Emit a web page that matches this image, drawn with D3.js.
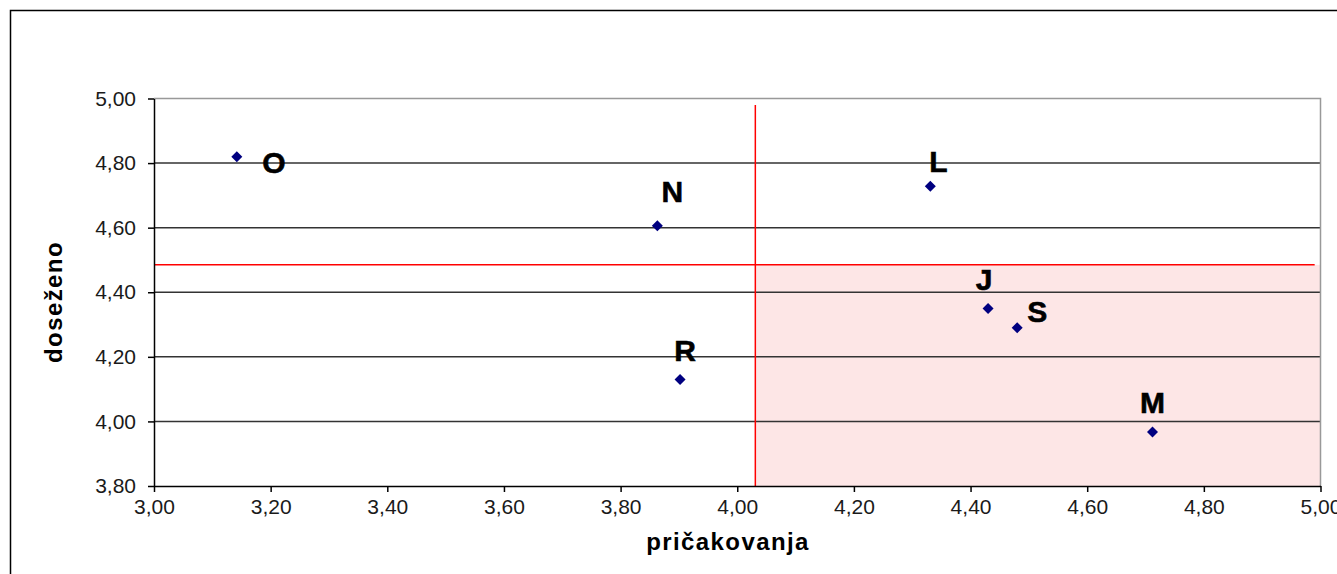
<!DOCTYPE html>
<html>
<head>
<meta charset="utf-8">
<script src="https://cdn.jsdelivr.net/npm/d3@7"></script>
<style>
  html, body { margin: 0; padding: 0; background: #fff; }
  #chart { width: 1337px; height: 574px; }
</style>
</head>
<body>
<div id="chart"></div>
<script>
// Data
const labels = ["O", "N", "R", "L", "J", "S", "M"];
const expected = [3.142, 3.863, 3.902, 4.331, 4.430, 4.480, 4.712];
const achieved = [4.820, 4.606, 4.130, 4.728, 4.350, 4.290, 3.967];
const meanExpected = 4.031;
const meanAchieved = 4.485;
const meanLineXEnd = 4.99;
const meanLineYEnd = 4.98;
const xTicks = [3.0, 3.2, 3.4, 3.6, 3.8, 4.0, 4.2, 4.4, 4.6, 4.8, 5.0];
const yTicks = [3.8, 4.0, 4.2, 4.4, 4.6, 4.8, 5.0];

// Manual label nudges (px) like the hand-placed labels in the original
const labelNudge = {
  O: [37, 16], N: [15, -24], R: [5, -18], L: [8, -14],
  J: [-4, -18], S: [20, -6], M: [0, -19],
};

const width = 1337;
const height = 574;
const plot = { left: 154, right: 1320.5, top: 98.5, bottom: 486 };

const svg = d3.select("#chart")
  .append("svg")
  .attr("width", width)
  .attr("height", height);

// Outer chart frame
svg.append("rect")
  .attr("x", 10.5).attr("y", 10.5)
  .attr("width", 1400).attr("height", 700)
  .attr("fill", "#fff")
  .attr("stroke", "#000")
  .attr("stroke-width", 1.5);

const x = d3.scaleLinear().domain([3, 5]).range([plot.left, plot.right]);
const y = d3.scaleLinear().domain([3.8, 5]).range([plot.bottom, plot.top]);

const fmt = (v) => v.toFixed(2).replace(".", ",");

// Shaded quadrant (high expectations, below average achieved)
svg.append("rect")
  .attr("x", x(meanExpected))
  .attr("y", y(meanAchieved))
  .attr("width", x(5) - x(meanExpected))
  .attr("height", y(3.8) - y(meanAchieved))
  .attr("fill", "#fde6e6");

// Horizontal gridlines
svg.append("g")
  .selectAll("line")
  .data(yTicks.filter((t) => t > 3.8 && t < 5))
  .enter()
  .append("line")
  .attr("x1", plot.left).attr("x2", plot.right)
  .attr("y1", (d) => y(d)).attr("y2", (d) => y(d))
  .attr("stroke", "#333")
  .attr("stroke-width", 1.5);

// Top and right plot border (gray)
svg.append("path")
  .attr("d", `M${plot.left},${y(5)}H${plot.right}V${plot.bottom}`)
  .attr("fill", "none")
  .attr("stroke", "#999")
  .attr("stroke-width", 1.5);

// Mean lines
svg.append("line")
  .attr("x1", x(3)).attr("x2", x(meanLineXEnd))
  .attr("y1", y(meanAchieved)).attr("y2", y(meanAchieved))
  .attr("stroke", "#ff0000")
  .attr("stroke-width", 1.5);
svg.append("line")
  .attr("x1", x(meanExpected)).attr("x2", x(meanExpected))
  .attr("y1", y(3.8)).attr("y2", y(meanLineYEnd))
  .attr("stroke", "#ff0000")
  .attr("stroke-width", 1.5);

// x-axis
const xAxis = svg.append("g")
  .attr("transform", `translate(0,${plot.bottom})`)
  .call(d3.axisBottom(x).tickValues(xTicks).tickFormat(fmt).tickSize(6).tickSizeOuter(0).tickPadding(7));

// y-axis
const yAxis = svg.append("g")
  .attr("transform", `translate(${plot.left},0)`)
  .call(d3.axisLeft(y).tickValues(yTicks).tickFormat(fmt).tickSize(6).tickSizeOuter(0).tickPadding(12));

[xAxis, yAxis].forEach((g) => {
  g.select(".domain").attr("stroke", "#000").attr("stroke-width", 1.5);
  g.selectAll(".tick line").attr("stroke", "#000").attr("stroke-width", 1.5);
  g.selectAll(".tick text")
    .style("font-family", "'Liberation Sans', Arial, sans-serif")
    .style("font-size", "21px")
    .attr("fill", "#1a1a1a");
});

// Axis titles
svg.append("text")
  .attr("x", 728)
  .attr("y", 550)
  .attr("text-anchor", "middle")
  .style("font-family", "'Liberation Sans', Arial, sans-serif")
  .style("font-size", "24px")
  .style("font-weight", "bold")
  .style("letter-spacing", "1.4px")
  .text("pričakovanja");

svg.append("text")
  .attr("transform", `translate(62,302) rotate(-90)`)
  .attr("text-anchor", "middle")
  .style("font-family", "'Liberation Sans', Arial, sans-serif")
  .style("font-size", "24px")
  .style("font-weight", "bold")
  .style("letter-spacing", "1.4px")
  .text("doseženo");

// Points
const points = labels.map((name, i) => ({ name, ex: expected[i], ac: achieved[i] }));

svg.append("g")
  .selectAll("path")
  .data(points)
  .enter()
  .append("path")
  .attr("d", "M0,-5.5L5.5,0L0,5.5L-5.5,0Z")
  .attr("transform", (d) => `translate(${x(d.ex)},${y(d.ac)})`)
  .attr("fill", "#000080");

// Point labels
svg.append("g")
  .selectAll("text")
  .data(points)
  .enter()
  .append("text")
  .attr("x", (d) => x(d.ex) + labelNudge[d.name][0])
  .attr("y", (d) => y(d.ac) + labelNudge[d.name][1])
  .attr("text-anchor", "middle")
  .style("font-family", "'Liberation Sans', Arial, sans-serif")
  .style("font-size", "30px")
  .style("font-weight", "bold")
  .attr("fill", "#000")
  .attr("stroke", "#000")
  .attr("stroke-width", 0.6)
  .text((d) => d.name);
</script>
</body>
</html>
